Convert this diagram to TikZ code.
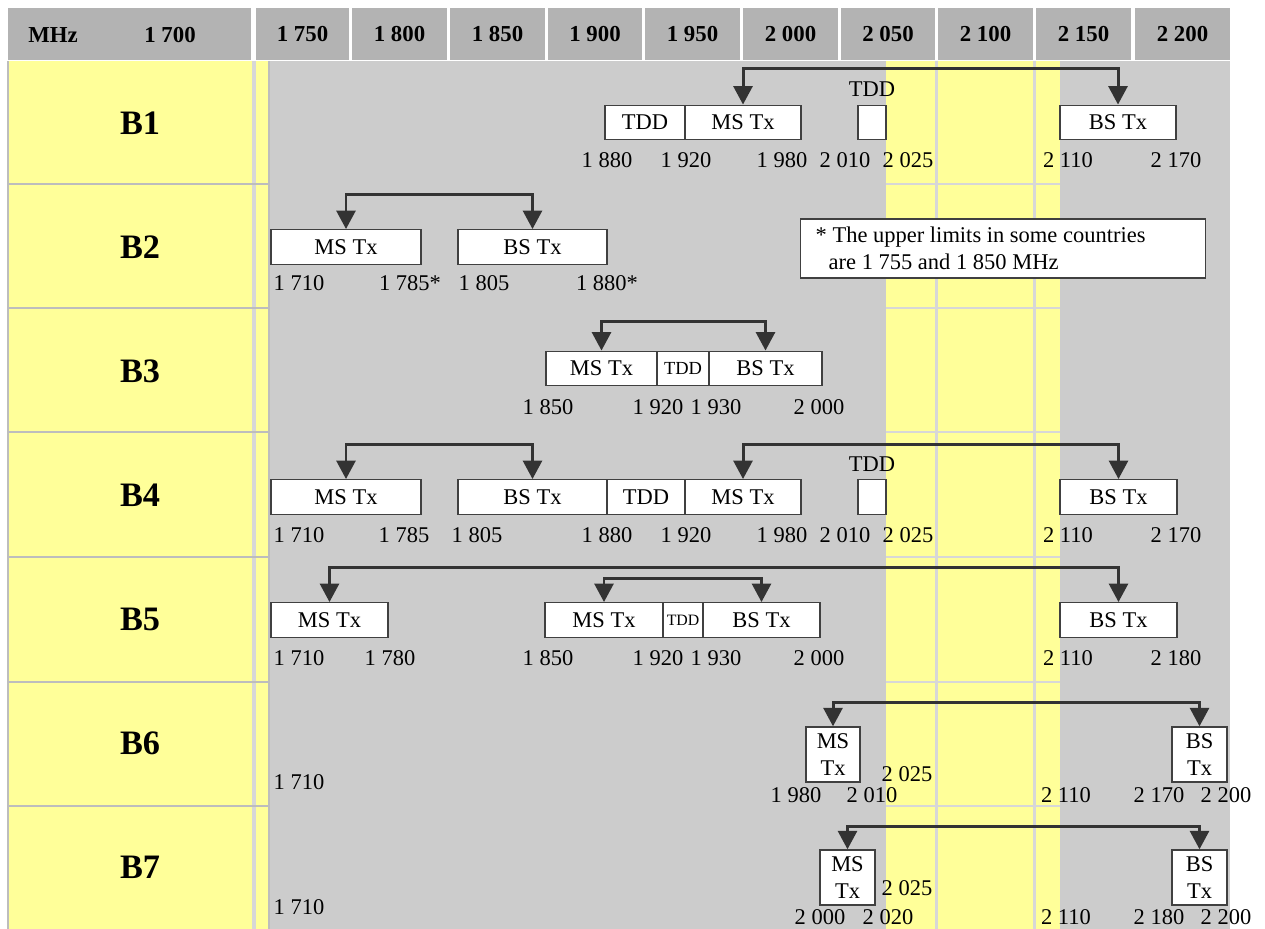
\documentclass[tikz,border=0pt]{standalone}
\usepackage{fontspec}
\setmainfont{Liberation Serif}
\usepackage{tikz}
\usetikzlibrary{arrows.meta,positioning}
\definecolor{hdrgrey}{RGB}{179,179,179}
\definecolor{cellgrey}{RGB}{204,204,204}
\definecolor{paleyellow}{RGB}{255,255,153}
\definecolor{rulegrey}{RGB}{189,189,189}
\definecolor{softgrey}{RGB}{215,215,215}
\definecolor{arrowgrey}{RGB}{51,51,51}
\definecolor{boxline}{RGB}{64,64,64}
\newcommand\hdrsize{\fontsize{13}{15}\selectfont\bfseries}
\newcommand\rowsize{\fontsize{19.5}{21}\selectfont\bfseries}
\newcommand\bodysize{\fontsize{12.8}{15.3}\selectfont}
\newcommand\tddsize{\fontsize{10.5}{12}\selectfont}
\newcommand\tddsmall{\fontsize{9}{10}\selectfont}
\tikzset{
  hdrcell/.style={fill=hdrgrey,inner sep=0pt,minimum height=1.04cm,font=\hdrsize},
  hdrtext/.style={font=\hdrsize,inner sep=0pt},
  rowname/.style={font=\rowsize,inner sep=0pt},
  slot/.style={draw=boxline,fill=white,line width=0.8pt,inner sep=0pt,
    minimum height=0.69cm,font=\bodysize,align=center},
  tallslot/.style={slot,minimum height=1.1cm},
  wd/.style={minimum width=#1*0.02cm},
  freq/.style={font=\bodysize,inner sep=0pt},
  duplex/.style={line width=1.7pt,draw=arrowgrey,
    {Triangle[length=0.37cm,width=0.38cm]}-{Triangle[length=0.37cm,width=0.38cm]}},
  seprule/.style={draw=rulegrey,line width=1.2pt},
  softrule/.style={draw=softgrey,line width=1.7pt}
}
\begin{document}
\begin{tikzpicture}[x=0.02cm,y=-0.02cm]
  \useasboundingbox (0,0) rectangle (1265,929);

  \fill[paleyellow] (8,61) rectangle (252,929);
  \fill[softgrey] (252,61) rectangle (256,929);
  \fill[paleyellow] (256,61) rectangle (268,929);
  \fill[cellgrey] (270,61) rectangle (1230,929);
  \fill[paleyellow] (886,61) rectangle (1060,929);
  \draw[seprule] (8,61) -- (8,929);
  \draw[seprule] (269,61) -- (269,929);
  \draw[softrule] (936,61) -- (936,929);
  \draw[softrule] (1034,61) -- (1034,929);
  \foreach \y in {184,308,432,557,682,806}{
    \draw[seprule] (8,\y) -- (270,\y);
    \draw[softrule] (886,\y) -- (1060,\y);
  }

  \node[hdrcell,wd=243] (h1700) at (129.5,34) {};
  \node[hdrtext] (hmhz) at (53,35) {MHz};
  \node[hdrtext] (hfirst) at (170,35) {1 700};
  \node[hdrcell,wd=93] (h1750) at (302.5,34) {1 750};
  \node[hdrcell,wd=95] (h1800) at (399.5,34) {1 800};
  \node[hdrcell,wd=95] (h1850) at (497.5,34) {1 850};
  \node[hdrcell,wd=94] (h1900) at (595,34) {1 900};
  \node[hdrcell,wd=95] (h1950) at (692.5,34) {1 950};
  \node[hdrcell,wd=95] (h2000) at (790.5,34) {2 000};
  \node[hdrcell,wd=94] (h2050) at (888,34) {2 050};
  \node[hdrcell,wd=95] (h2100) at (985.5,34) {2 100};
  \node[hdrcell,wd=95] (h2150) at (1083.5,34) {2 150};
  \node[hdrcell,wd=95] (h2200) at (1182.5,34) {2 200};

  \node[rowname] (b1) at (140,123) {B1};
  \node[rowname] (b2) at (140,247) {B2};
  \node[rowname] (b3) at (140,371) {B3};
  \node[rowname] (b4) at (140,495) {B4};
  \node[rowname] (b5) at (140,619) {B5};
  \node[rowname] (b6) at (140,743) {B6};
  \node[rowname] (b7) at (140,867) {B7};

  \node[slot,wd=80] (r1tdd) at (645,122.5) {TDD};
  \node[slot,wd=116] (r1ms) at (743,122.5) {MS Tx};
  \node[slot,wd=28] (r1gap) at (872,122.5) {};
  \node[freq,above=0.15cm of r1gap] (r1gaplbl) {TDD};
  \node[slot,wd=116] (r1bs) at (1118,122.5) {BS Tx};
  \draw[duplex] (r1ms.north) -- ++(0,-36) -| (r1bs.north);
  \node[freq] (r1f1880) at (607,160) {1 880};
  \node[freq] (r1f1920) at (686,160) {1 920};
  \node[freq] (r1f1980) at (782,160) {1 980};
  \node[freq] (r1f2010) at (845,160) {2 010};
  \node[freq] (r1f2025) at (908,160) {2 025};
  \node[freq] (r1f2110) at (1068,160) {2 110};
  \node[freq] (r1f2170) at (1176,160) {2 170};

  \node[slot,wd=150] (r2ms) at (346,247) {MS Tx};
  \node[slot,wd=149] (r2bs) at (532.5,247) {BS Tx};
  \draw[duplex] (r2ms.north) -- ++(0,-35) -| (r2bs.north);
  \node[freq] (r2f1710) at (299,283) {1 710};
  \node[freq] (r2f1785) at (410,283) {1 785*};
  \node[freq] (r2f1805) at (484,283) {1 805};
  \node[freq] (r2f1880) at (607,283) {1 880*};
  \node[draw=boxline,fill=white,line width=0.8pt,font=\bodysize,align=flush left,
    text width=7.5cm,inner xsep=0.3cm,minimum height=1.18cm,anchor=west]
    (note) at (800,248.5)
    {* The upper limits in some countries\\\hspace*{0.26cm}are 1 755 and 1 850 MHz};

  \node[slot,wd=111] (r3ms) at (601.5,368.5) {MS Tx};
  \node[slot,wd=52,font=\tddsize] (r3tdd) at (683,368.5) {TDD};
  \node[slot,wd=113] (r3bs) at (765.5,368.5) {BS Tx};
  \draw[duplex] (r3ms.north) -- ++(0,-29) -| (r3bs.north);
  \node[freq] (r3f1850) at (548,407) {1 850};
  \node[freq] (r3f1920) at (658,407) {1 920};
  \node[freq] (r3f1930) at (716,407) {1 930};
  \node[freq] (r3f2000) at (819,407) {2 000};

  \node[slot,wd=150] (r4ms) at (346,497) {MS Tx};
  \node[slot,wd=149] (r4bs) at (532.5,497) {BS Tx};
  \node[slot,wd=78] (r4tdd) at (646,497) {TDD};
  \node[slot,wd=116] (r4ms2) at (743,497) {MS Tx};
  \node[slot,wd=28] (r4gap) at (872,497) {};
  \node[freq,above=0.15cm of r4gap] (r4gaplbl) {TDD};
  \node[slot,wd=117] (r4bs2) at (1118.5,497) {BS Tx};
  \draw[duplex] (r4ms.north) -- ++(0,-35) -| (r4bs.north);
  \draw[duplex] (r4ms2.north) -- ++(0,-35) -| (r4bs2.north);
  \node[freq] (r4f1710) at (299,535) {1 710};
  \node[freq] (r4f1785) at (404,535) {1 785};
  \node[freq] (r4f1805) at (477,535) {1 805};
  \node[freq] (r4f1880) at (607,535) {1 880};
  \node[freq] (r4f1920) at (686,535) {1 920};
  \node[freq] (r4f1980) at (782,535) {1 980};
  \node[freq] (r4f2010) at (845,535) {2 010};
  \node[freq] (r4f2025) at (908,535) {2 025};
  \node[freq] (r4f2110) at (1068,535) {2 110};
  \node[freq] (r4f2170) at (1176,535) {2 170};

  \node[slot,wd=117] (r5ms) at (329.5,620) {MS Tx};
  \node[slot,wd=118] (r5ms2) at (604,620) {MS Tx};
  \node[slot,wd=40,font=\tddsmall] (r5tdd) at (683,620) {TDD};
  \node[slot,wd=117] (r5bs) at (761.5,620) {BS Tx};
  \node[slot,wd=117] (r5bs2) at (1118.5,620) {BS Tx};
  \draw[duplex] (r5ms.north) -- ++(0,-35) -| (r5bs2.north);
  \draw[duplex] (r5ms2.north) -- ++(0,-24) -| (r5bs.north);
  \node[freq] (r5f1710) at (299,658) {1 710};
  \node[freq] (r5f1780) at (390,658) {1 780};
  \node[freq] (r5f1850) at (548,658) {1 850};
  \node[freq] (r5f1920) at (658,658) {1 920};
  \node[freq] (r5f1930) at (716,658) {1 930};
  \node[freq] (r5f2000) at (819,658) {2 000};
  \node[freq] (r5f2110) at (1068,658) {2 110};
  \node[freq] (r5f2180) at (1176,658) {2 180};

  \node[tallslot,wd=54] (r6ms) at (833,754.5) {MS\\Tx};
  \node[tallslot,wd=55] (r6bs) at (1199.5,754.5) {BS\\Tx};
  \draw[duplex] (r6ms.north) -- ++(0,-24) -| (r6bs.north);
  \node[freq] (r6f1710) at (299,782) {1 710};
  \node[freq] (r6f1980) at (796,795) {1 980};
  \node[freq] (r6f2010) at (872,795) {2 010};
  \node[freq] (r6f2025) at (907,774) {2 025};
  \node[freq] (r6f2110) at (1066,795) {2 110};
  \node[freq] (r6f2170) at (1159,795) {2 170};
  \node[freq] (r6f2200) at (1226,795) {2 200};

  \node[tallslot,wd=55] (r7ms) at (847.5,877.5) {MS\\Tx};
  \node[tallslot,wd=55] (r7bs) at (1199.5,877.5) {BS\\Tx};
  \draw[duplex] (r7ms.north) -- ++(0,-23) -| (r7bs.north);
  \node[freq] (r7f1710) at (299,907) {1 710};
  \node[freq] (r7f2000) at (820,917) {2 000};
  \node[freq] (r7f2020) at (888,917) {2 020};
  \node[freq] (r7f2025) at (907,888) {2 025};
  \node[freq] (r7f2110) at (1066,917) {2 110};
  \node[freq] (r7f2180) at (1159,917) {2 180};
  \node[freq] (r7f2200) at (1226,917) {2 200};
\end{tikzpicture}
\end{document}
